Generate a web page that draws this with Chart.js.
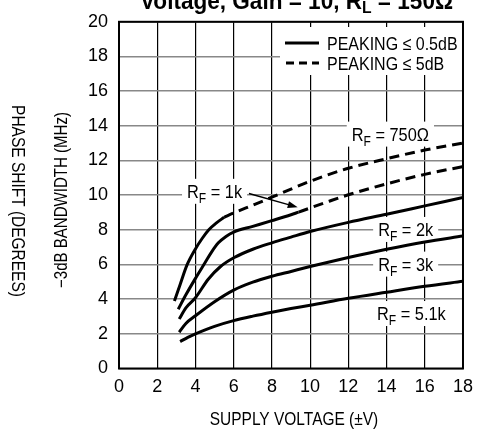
<!DOCTYPE html>
<html>
<head>
<meta charset="utf-8">
<script src="https://cdn.jsdelivr.net/npm/chart.js@4.4.1/dist/chart.umd.min.js"></script>
<style>
  html, body { margin: 0; padding: 0; background: #fff; }
  #wrap { width: 481px; height: 433px; }
</style>
</head>
<body>
<div id="wrap"><canvas id="bw" width="481" height="433"></canvas></div>
<script>
// Values: supply voltage (±V) vs -3dB bandwidth (MHz)
const v750 = [2.9, 3.2, 3.55, 4.0, 4.35, 4.7, 5.1, 5.5];
const bw750 = [3.9, 4.85, 5.95, 6.9, 7.5, 8.0, 8.4, 8.72];
const v750pk = [5.5, 6, 7, 8, 9, 10, 11, 12, 14, 16, 18];
const bw750pk = [8.72, 8.97, 9.42, 9.88, 10.35, 10.8, 11.2, 11.55, 12.1, 12.6, 13.0];

const v1k = [3.1, 3.5, 4.0, 4.5, 4.85, 5.2, 5.6, 6.0, 7, 8, 9, 9.4];
const bw1k = [3.42, 4.25, 5.2, 6.1, 6.73, 7.25, 7.62, 7.87, 8.2, 8.53, 8.87, 9.02];
const v1kpk = [9.4, 10, 11, 12, 14, 16, 18];
const bw1kpk = [9.02, 9.26, 9.65, 10.02, 10.65, 11.2, 11.65];

const v2k = [3.15, 3.5, 4.0, 4.67, 5.3, 6.03, 7, 8, 9, 10, 12, 14, 16, 18];
const bw2k = [2.85, 3.5, 4.08, 5.15, 5.87, 6.4, 6.88, 7.25, 7.58, 7.9, 8.43, 8.9, 9.38, 9.86];

const v3k = [3.15, 3.5, 4.0, 5, 6, 7, 8, 9, 10, 12, 14, 16, 18];
const bw3k = [2.09, 2.6, 3.04, 3.85, 4.52, 4.98, 5.32, 5.6, 5.88, 6.4, 6.88, 7.3, 7.64];

const v5k1 = [3.2, 3.6, 4, 5, 6, 7, 8, 9, 10, 12, 14, 16, 18];
const bw5k1 = [1.55, 1.8, 2.0, 2.43, 2.76, 3.02, 3.25, 3.46, 3.65, 4.05, 4.4, 4.74, 5.03];

const legendLabels = ['PEAKING ≤ 0.5dB', 'PEAKING ≤ 5dB'];

const FONT = '"Liberation Sans", Arial, sans-serif';
const SQUEEZE = 0.86;   // the original uses a condensed face
const DASH = [10, 6];

const pts = (xs, ys) => xs.map((x, i) => ({ x, y: ys[i] }));

function curve(xs, ys, dashed) {
	return {
		data: pts(xs, ys),
		borderColor: '#000',
		borderWidth: 3,
		borderDash: dashed ? DASH : [],
		pointRadius: 0,
		showLine: true,
		fill: false,
		cubicInterpolationMode: 'monotone',
	};
}

// label anchors, in data units
const rfLabels = [
	{ sub: 'F', rest: ' = 750Ω', x: 14.2, y: 13.55 },
	{ sub: 'F', rest: ' = 1k', x: 5.0, y: 10.25 },
	{ sub: 'F', rest: ' = 2k', x: 15.0, y: 8.05 },
	{ sub: 'F', rest: ' = 3k', x: 15.0, y: 6.05 },
	{ sub: 'F', rest: ' = 5.1k', x: 15.3, y: 3.2 },
];

function textW(ctx, s, size, bold, sq = SQUEEZE) {
	ctx.font = (bold ? 'bold ' : '') + size + 'px ' + FONT;
	return ctx.measureText(s).width * sq;
}

function text(ctx, s, x, y, size, opts = {}) {
	ctx.save();
	ctx.translate(x, y);
	if (opts.rot) ctx.rotate(opts.rot);
	ctx.scale(opts.sq || SQUEEZE, 1);
	ctx.font = (opts.bold ? 'bold ' : '') + size + 'px ' + FONT;
	ctx.fillStyle = '#000';
	ctx.textAlign = opts.align || 'left';
	ctx.textBaseline = opts.baseline || 'alphabetic';
	ctx.fillText(s, 0, 0);
	ctx.restore();
}

function rfWidth(ctx, l) {
	return textW(ctx, 'R', 19) + textW(ctx, l.sub, 14) + textW(ctx, l.rest, 19);
}

function drawRf(ctx, l, cx, cy) {
	let x = cx - rfWidth(ctx, l) / 2;
	const base = cy + 7;
	text(ctx, 'R', x, base, 19);
	x += textW(ctx, 'R', 19);
	text(ctx, l.sub, x, base + 5, 14);
	x += textW(ctx, l.sub, 14);
	text(ctx, l.rest, x, base, 19);
}

const notes = {
	id: 'notes',
	beforeDatasetsDraw(chart) {
		const { ctx, chartArea: a, scales } = chart;
		ctx.save();
		ctx.fillStyle = '#fff';
		// legend backing
		ctx.fillRect(280, 27, 182, 48);
		rfLabels.forEach((l) => {
			const cx = scales.x.getPixelForValue(l.x);
			const cy = scales.y.getPixelForValue(l.y);
			const w = rfWidth(ctx, l);
			ctx.fillStyle = '#fff';
			ctx.fillRect(cx - w / 2 - 5, cy - 12, w + 10, 25);
		});
		ctx.strokeStyle = '#000';
		ctx.lineWidth = 2;
		ctx.strokeRect(a.left, a.top, a.right - a.left, a.bottom - a.top);
		ctx.restore();
	},
	afterDatasetsDraw(chart) {
		const { ctx, scales } = chart;
		ctx.save();
		rfLabels.forEach((l) => {
			drawRf(ctx, l, scales.x.getPixelForValue(l.x), scales.y.getPixelForValue(l.y));
		});

		// arrow from the 1k label to its line
		const x0 = scales.x.getPixelForValue(6.8), y0 = scales.y.getPixelForValue(10.1);
		const x1 = scales.x.getPixelForValue(9.35), y1 = scales.y.getPixelForValue(9.3);
		const ang = Math.atan2(y1 - y0, x1 - x0);
		ctx.strokeStyle = '#000';
		ctx.lineWidth = 1.5;
		ctx.beginPath();
		ctx.moveTo(x0, y0);
		ctx.lineTo(x1 - 6 * Math.cos(ang), y1 - 6 * Math.sin(ang));
		ctx.stroke();
		ctx.fillStyle = '#000';
		ctx.beginPath();
		ctx.moveTo(x1, y1);
		ctx.lineTo(x1 - 10 * Math.cos(ang) + 3.5 * Math.sin(ang), y1 - 10 * Math.sin(ang) - 3.5 * Math.cos(ang));
		ctx.lineTo(x1 - 10 * Math.cos(ang) - 3.5 * Math.sin(ang), y1 - 10 * Math.sin(ang) + 3.5 * Math.cos(ang));
		ctx.closePath();
		ctx.fill();

		// legend
		ctx.lineWidth = 3;
		ctx.beginPath();
		ctx.moveTo(285, 43);
		ctx.lineTo(319, 43);
		ctx.stroke();
		ctx.setLineDash([8, 5]);
		ctx.beginPath();
		ctx.moveTo(286, 63);
		ctx.lineTo(319, 63);
		ctx.stroke();
		ctx.setLineDash([]);
		text(ctx, legendLabels[0], 327, 49.5, 18.6);
		text(ctx, legendLabels[1], 327, 69.5, 18.6);
		ctx.restore();
	},
	afterDraw(chart) {
		const { ctx } = chart;
		text(ctx, 'SUPPLY VOLTAGE (±V)', 294, 420, 18, { align: 'center', baseline: 'middle' });
		text(ctx, '−3dB BANDWIDTH (MHz)', 62, 200, 17.5, { align: 'center', baseline: 'middle', rot: -Math.PI / 2 });
		text(ctx, 'PHASE SHIFT (DEGREES)', 17, 201, 18, { align: 'center', baseline: 'middle', rot: Math.PI / 2 });

		// title, cut off at the top edge; stretched to the original's span
		const base = 9, size = 23;
		const parts = ['Voltage, Gain = 10, R', 'L', ' = 150Ω'];
		const raw = textW(ctx, parts[0], size, true, 1) + textW(ctx, parts[1], 16, true, 1) + textW(ctx, parts[2], size, true, 1);
		const sq = 313 / raw;
		let x = 140;
		text(ctx, parts[0], x, base, size, { bold: true, sq });
		x += textW(ctx, parts[0], size, true, sq);
		text(ctx, parts[1], x, base + 4, 16, { bold: true, sq });
		x += textW(ctx, parts[1], 16, true, sq);
		text(ctx, parts[2], x, base, size, { bold: true, sq });
	},
};

new Chart(document.getElementById('bw'), {
	type: 'scatter',
	data: {
		datasets: [
			curve(v750, bw750, false),
			curve(v750pk, bw750pk, true),
			curve(v1k, bw1k, false),
			curve(v1kpk, bw1kpk, true),
			curve(v2k, bw2k, false),
			curve(v3k, bw3k, false),
			curve(v5k1, bw5k1, false),
		],
	},
	options: {
		responsive: false,
		animation: false,
		layout: { padding: { left: 0, right: 11, top: 16, bottom: 0 } },
		plugins: {
			legend: { display: false },
			tooltip: { enabled: false },
		},
		scales: {
			x: {
				type: 'linear',
				min: 0,
				max: 18,
				afterFit: (s) => { s.height = 64.5; },
				border: { display: false },
				grid: { color: '#000', lineWidth: 1.2, drawTicks: false },
				ticks: {
					stepSize: 2,
					padding: 8,
					color: '#000',
					font: { family: FONT, size: 18 },
				},
			},
			y: {
				type: 'linear',
				min: 0,
				max: 20,
				afterFit: (s) => { s.width = 119; },
				border: { display: false },
				grid: { color: '#888', lineWidth: 1.6, drawTicks: false },
				ticks: {
					stepSize: 2,
					padding: 11,
					color: '#000',
					font: { family: FONT, size: 18 },
				},
			},
		},
	},
	plugins: [notes],
});
</script>
</body>
</html>
